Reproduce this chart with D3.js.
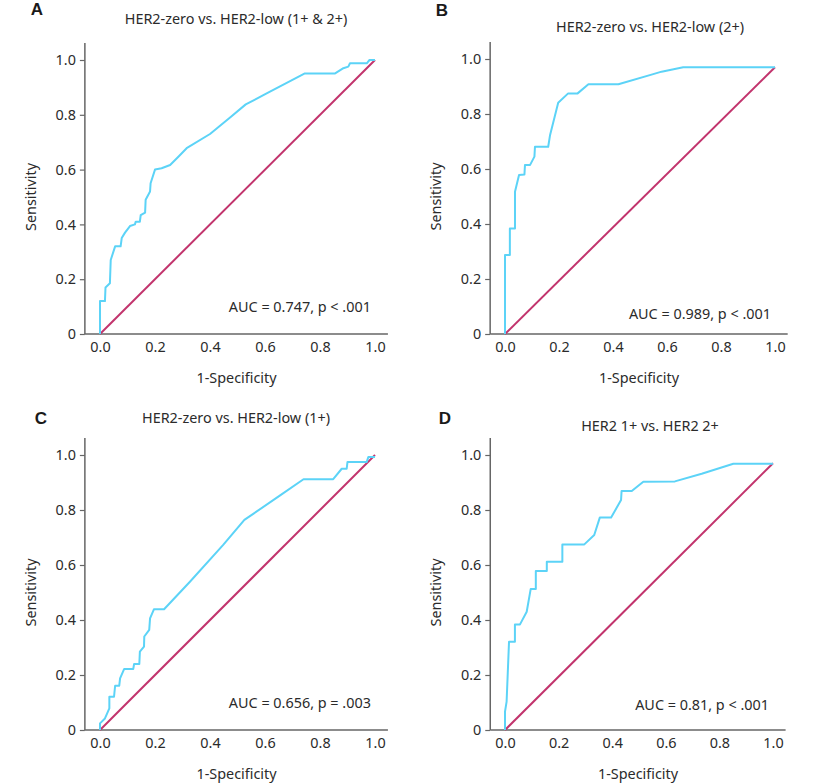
<!DOCTYPE html>
<html>
<head>
<meta charset="utf-8">
<script src="https://cdn.jsdelivr.net/npm/d3@7"></script>
<style>
  body { margin: 0; background: #fff; }
  svg { display: block; }
  text { font-family: "Noto Sans", "Open Sans", sans-serif; fill: #2b2b2b; }
  .letter { font-family: "Liberation Sans", Arial, sans-serif; font-weight: bold; font-size: 17px; fill: #1a1a1a; }
</style>
</head>
<body>
<svg id="chart" width="830" height="784"></svg>
<script>
// ROC curves
const titles = [
  "HER2-zero vs. HER2-low (1+ & 2+)",
  "HER2-zero vs. HER2-low (2+)",
  "HER2-zero vs. HER2-low (1+)",
  "HER2 1+ vs. HER2 2+"
];
const letters = ["A", "B", "C", "D"];
const aucLabels = [
  "AUC = 0.747, p < .001",
  "AUC = 0.989, p < .001",
  "AUC = 0.656, p = .003",
  "AUC = 0.81, p < .001"
];
const tickValues = [0, 0.2, 0.4, 0.6, 0.8, 1.0];

const fprA = [0, 0, 0.018, 0.02, 0.036, 0.039, 0.055, 0.075, 0.079, 0.091, 0.109, 0.127, 0.13, 0.145, 0.148, 0.164, 0.166, 0.182, 0.184, 0.2, 0.224, 0.255, 0.285, 0.315, 0.40, 0.473, 0.53, 0.606, 0.745, 0.855, 0.885, 0.903, 0.909, 0.97, 0.98, 1.0];
const tprA = [0, 0.12, 0.12, 0.17, 0.185, 0.27, 0.32, 0.32, 0.35, 0.37, 0.394, 0.40, 0.41, 0.41, 0.434, 0.443, 0.49, 0.52, 0.55, 0.60, 0.605, 0.617, 0.647, 0.678, 0.73, 0.79, 0.838, 0.878, 0.951, 0.951, 0.97, 0.976, 0.988, 0.988, 1.0, 1.0];

const fprB = [0, 0, 0.018, 0.018, 0.037, 0.037, 0.052, 0.072, 0.074, 0.093, 0.109, 0.111, 0.16, 0.167, 0.197, 0.234, 0.269, 0.309, 0.42, 0.549, 0.58, 0.66, 1.0];
const tprB = [0, 0.287, 0.287, 0.384, 0.384, 0.517, 0.578, 0.58, 0.615, 0.615, 0.645, 0.681, 0.681, 0.724, 0.841, 0.875, 0.875, 0.908, 0.908, 0.945, 0.954, 0.97, 0.97];

const fprC = [0, 0, 0.018, 0.034, 0.034, 0.051, 0.055, 0.07, 0.073, 0.088, 0.121, 0.124, 0.143, 0.145, 0.16, 0.161, 0.179, 0.182, 0.196, 0.233, 0.327, 0.448, 0.525, 0.655, 0.74, 0.848, 0.879, 0.897, 0.9, 0.97, 0.976, 1.0];
const tprC = [0, 0.024, 0.042, 0.079, 0.121, 0.121, 0.161, 0.161, 0.188, 0.222, 0.222, 0.24, 0.24, 0.285, 0.303, 0.34, 0.364, 0.406, 0.439, 0.439, 0.539, 0.673, 0.764, 0.853, 0.912, 0.912, 0.95, 0.95, 0.975, 0.975, 0.993, 0.993];

const fprD = [0, 0, 0.006, 0.015, 0.037, 0.037, 0.056, 0.081, 0.096, 0.115, 0.115, 0.156, 0.156, 0.214, 0.214, 0.296, 0.333, 0.354, 0.396, 0.433, 0.435, 0.473, 0.516, 0.634, 0.734, 0.852, 1.0];
const tprD = [0, 0.067, 0.103, 0.321, 0.321, 0.384, 0.384, 0.43, 0.513, 0.513, 0.578, 0.578, 0.612, 0.612, 0.675, 0.675, 0.709, 0.773, 0.773, 0.836, 0.869, 0.869, 0.903, 0.904, 0.932, 0.968, 0.968];

const fprs = [fprA, fprB, fprC, fprD];
const tprs = [tprA, tprB, tprC, tprD];
// end of the chance line (drawn to the curve's last sensitivity)
const chanceEnd = [1.0, 0.97, 1.0, 0.97];

// pixel box of each panel: x for 0..1, y for 0..1
const panels = [
  { x: [100, 375], y: [334, 60], titleY: 24, letterX: 37, letterY: 15, titleX: 236, aucY: 312 },
  { x: [505, 775], y: [334, 59], titleY: 32, letterX: 442, letterY: 16, titleX: 650, aucY: 319 },
  { x: [100, 375], y: [730, 455], titleY: 423, letterX: 41, letterY: 424, titleX: 236, aucY: 708 },
  { x: [505, 773], y: [730, 455], titleY: 431, letterX: 445, letterY: 424, titleX: 650, aucY: 710 }
];

const svg = d3.select("#chart");
const curveColor = "#5cd3f7";
const chanceColor = "#c2346d";
const axisColor = "#666";
const fs = "14.4px";

panels.forEach((p, i) => {
  const x = d3.scaleLinear().domain([0, 1]).range(p.x);
  const y = d3.scaleLinear().domain([0, 1]).range(p.y);
  const g = svg.append("g");

  // panel letter and title
  g.append("text").attr("class", "letter")
    .attr("x", p.letterX).attr("y", p.letterY)
    .attr("text-anchor", "middle").text(letters[i]);
  g.append("text")
    .attr("x", p.titleX).attr("y", p.titleY)
    .attr("text-anchor", "middle").style("font-size", fs)
    .text(titles[i]);

  // y axis with ticks on the left
  const yAxis = d3.axisLeft(y).tickValues(tickValues).tickSize(5).tickPadding(4)
    .tickFormat(d => d === 0 ? "0" : d3.format(".1f")(d));
  const yg = g.append("g").attr("transform", `translate(${x(-0.055)},0)`).call(yAxis);
  yg.select(".domain").remove();
  yg.selectAll(".tick line").attr("stroke", axisColor).attr("stroke-width", 1.2);
  yg.selectAll(".tick text").style("font-size", fs).style("font-family", "'Noto Sans', sans-serif").attr("fill", "#2b2b2b");
  g.append("line")
    .attr("x1", x(-0.055)).attr("x2", x(-0.055))
    .attr("y1", y(0)).attr("y2", y(1.062))
    .attr("stroke", axisColor).attr("stroke-width", 1.5);

  // x axis without tick marks
  const xAxis = d3.axisBottom(x).tickValues(tickValues).tickSize(0).tickPadding(8)
    .tickFormat(d3.format(".1f"));
  const xg = g.append("g").attr("transform", `translate(0,${y(0)})`).call(xAxis);
  xg.select(".domain").remove();
  xg.selectAll(".tick text").style("font-size", fs).style("font-family", "'Noto Sans', sans-serif").attr("fill", "#2b2b2b");
  g.append("line")
    .attr("x1", x(-0.055)).attr("x2", x(1.047))
    .attr("y1", y(0)).attr("y2", y(0))
    .attr("stroke", axisColor).attr("stroke-width", 1.5);

  // axis titles
  g.append("text")
    .attr("x", (x(0) + x(1)) / 2 - 1).attr("y", y(0) + 49)
    .attr("text-anchor", "middle").style("font-size", fs)
    .text("1-Specificity");
  g.append("text")
    .attr("transform", `translate(${x(-0.055) - 49},${(y(0) + y(1)) / 2}) rotate(-90)`)
    .attr("text-anchor", "middle").style("font-size", fs)
    .text("Sensitivity");

  // chance line
  g.append("line")
    .attr("x1", x(0)).attr("y1", y(0))
    .attr("x2", x(1)).attr("y2", y(chanceEnd[i]))
    .attr("stroke", chanceColor).attr("stroke-width", 2);

  // ROC curve
  const pts = fprs[i].map((f, k) => [f, tprs[i][k]]);
  g.append("path")
    .datum(pts)
    .attr("d", d3.line().x(d => x(d[0])).y(d => y(d[1])))
    .attr("fill", "none")
    .attr("stroke", curveColor)
    .attr("stroke-width", 2)
    .attr("stroke-linejoin", "round");

  // AUC label
  g.append("text")
    .attr("x", x(0.985)).attr("y", p.aucY)
    .attr("text-anchor", "end").style("font-size", fs)
    .text(aucLabels[i]);
});
</script>
</body>
</html>
